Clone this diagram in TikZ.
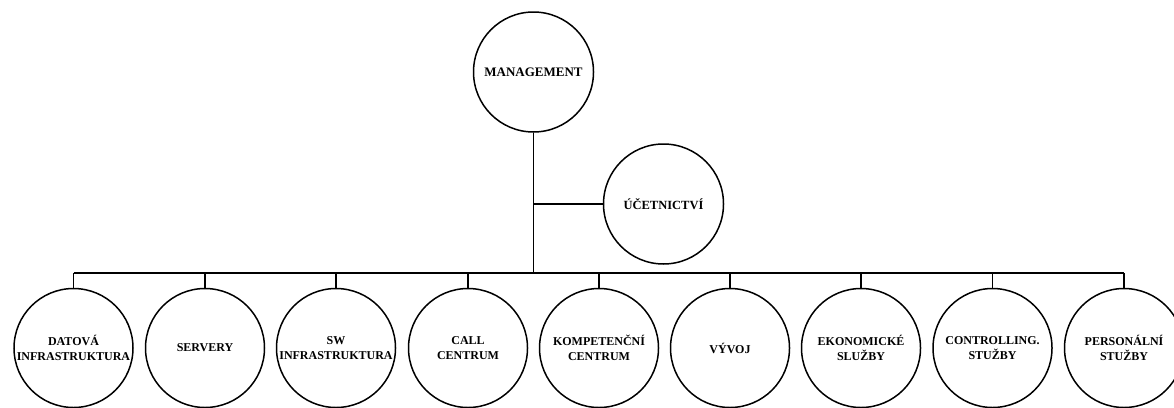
\documentclass[tikz,border=0pt]{standalone}
\usepackage{fontspec}
\setmainfont{Liberation Serif}
\begin{document}
\begin{tikzpicture}[x=1pt,y=-1pt,
  unit/.style={circle, draw, line width=1.5pt, minimum size=119pt, inner sep=0pt,
    align=center, font=\fontsize{12}{15}\selectfont\bfseries},
  link/.style={line width=1.5pt}]
\clip (0,0) rectangle (1174,407);
\useasboundingbox (0,0) rectangle (1174,407);

% top level and staff unit
\node[unit, minimum size=120pt, font=\fontsize{13}{15}\selectfont\bfseries] (mgmt) at (533.5,72) {MANAGEMENT};
\node[unit, minimum size=120pt, font=\fontsize{12.5}{15}\selectfont\bfseries] (ucet) at (663.5,204) {ÚČETNICTVÍ};
\coordinate (bus) at (533.5,273);

% departments
\node[unit] (d1) at (73.5,348) {DATOVÁ\\INFRASTRUKTURA};
\node[unit] (d2) at (205,348) {SERVERY};
\node[unit] (d3) at (336,348) {SW\\INFRASTRUKTURA};
\node[unit] (d4) at (468,348) {CALL\\CENTRUM};
\node[unit] (d5) at (599,348) {KOMPETENČNÍ\\CENTRUM};
\node[unit] (d6) at (730,348) {VÝVOJ};
\node[unit] (d7) at (861,348) {EKONOMICKÉ\\SLUŽBY};
\node[unit] (d8) at (992.5,348) {CONTROLLING.\\STUŽBY};
\node[unit] (d9) at (1124,348) {PERSONÁLNÍ\\STUŽBY};

% connectors
\draw[link] (mgmt.south) -- (bus);
\draw[link] (ucet.west) -- (ucet.west -| mgmt.south);
\draw[link] (d1.north |- bus) -- (d9.north |- bus);
\foreach \d in {d1,d2,d3,d4,d5,d6,d7,d8,d9}
  \draw[link] (\d.north) -- (\d.north |- bus);
\end{tikzpicture}
\end{document}
